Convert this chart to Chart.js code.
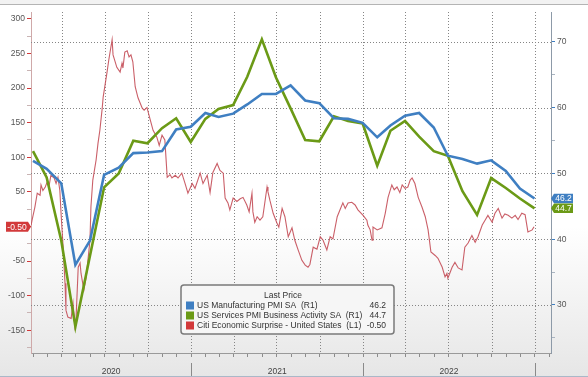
<!DOCTYPE html>
<html>
<head>
<meta charset="utf-8">
<script src="https://cdn.jsdelivr.net/npm/chart.js@4.4.1/dist/chart.umd.min.js"></script>
<style>
  html, body { margin: 0; padding: 0; background: #fff; }
</style>
</head>
<body>
<canvas id="chart" width="588" height="377"></canvas>
<script>
// monthly PMI readings (plotted at month end)
var months = [
  "2020-01", "2020-02", "2020-03", "2020-04", "2020-05", "2020-06",
  "2020-07", "2020-08", "2020-09", "2020-10", "2020-11", "2020-12",
  "2021-01", "2021-02", "2021-03", "2021-04", "2021-05", "2021-06",
  "2021-07", "2021-08", "2021-09", "2021-10", "2021-11", "2021-12",
  "2022-01", "2022-02", "2022-03", "2022-04", "2022-05", "2022-06",
  "2022-07", "2022-08", "2022-09", "2022-10", "2022-11", "2022-12"
];
var mfgPmi = [
  51.9, 50.7, 48.5, 36.1, 39.8, 49.8, 50.9, 53.1, 53.2, 53.4, 56.7, 57.1,
  59.2, 58.6, 59.1, 60.5, 62.1, 62.1, 63.4, 61.1, 60.7, 58.4, 58.3, 57.7,
  55.5, 57.3, 58.8, 59.2, 57.0, 52.7, 52.2, 51.5, 52.0, 50.4, 47.7, 46.2
];
var servPmi = [
  53.4, 49.4, 39.8, 26.7, 37.5, 47.9, 50.0, 55.0, 54.6, 56.9, 58.4, 54.8,
  58.3, 59.8, 60.4, 64.7, 70.4, 64.6, 59.9, 55.1, 54.9, 58.7, 58.0, 57.6,
  51.2, 56.5, 58.0, 55.6, 53.4, 52.7, 47.3, 43.7, 49.3, 47.8, 46.2, 44.7
];

// Citi Economic Surprise Index
var surprise = [
  ["2020-01-27", 2], ["2020-01-29", 9], ["2020-02-04", 28], ["2020-02-09", 48],
  ["2020-02-15", 45], ["2020-02-17", 60], ["2020-02-21", 52], ["2020-02-26", 57],
  ["2020-03-01", 64], ["2020-03-05", 58], ["2020-03-09", 74], ["2020-03-16", 70],
  ["2020-03-20", 62], ["2020-03-24", 71], ["2020-03-28", 52], ["2020-03-31", 14],
  ["2020-04-04", -30], ["2020-04-08", -82], ["2020-04-10", -121], ["2020-04-14", -131],
  ["2020-04-21", -133], ["2020-04-25", -111], ["2020-04-29", -146], ["2020-05-01", -140],
  ["2020-05-06", -59], ["2020-05-10", -53], ["2020-05-12", -68], ["2020-05-18", -92],
  ["2020-05-23", -73], ["2020-05-31", -20], ["2020-06-02", 28], ["2020-06-06", 67],
  ["2020-06-13", 96], ["2020-06-17", 120], ["2020-06-21", 139], ["2020-06-26", 171],
  ["2020-06-28", 187], ["2020-07-06", 222], ["2020-07-10", 241], ["2020-07-17", 270],
  ["2020-07-19", 248], ["2020-07-27", 230], ["2020-08-03", 223], ["2020-08-07", 236],
  ["2020-08-09", 229], ["2020-08-13", 252], ["2020-08-18", 254], ["2020-08-22", 245],
  ["2020-08-26", 248], ["2020-08-30", 238], ["2020-09-04", 202], ["2020-09-10", 186],
  ["2020-09-19", 171], ["2020-09-23", 168], ["2020-09-29", 172], ["2020-10-06", 154],
  ["2020-10-12", 139], ["2020-10-20", 129], ["2020-10-25", 117], ["2020-10-31", 132],
  ["2020-11-06", 125], ["2020-11-11", 71], ["2020-11-17", 75], ["2020-11-21", 70],
  ["2020-11-28", 74], ["2020-12-04", 70], ["2020-12-12", 77], ["2020-12-19", 62],
  ["2020-12-25", 48], ["2021-01-03", 62], ["2021-01-09", 55], ["2021-01-20", 77],
  ["2021-01-26", 62], ["2021-02-04", 74], ["2021-02-10", 49], ["2021-02-16", 78],
  ["2021-02-25", 91], ["2021-03-03", 81], ["2021-03-10", 77], ["2021-03-14", 41],
  ["2021-03-20", 34], ["2021-03-24", 24], ["2021-03-31", 41], ["2021-04-08", 36],
  ["2021-04-15", 40], ["2021-04-21", 42], ["2021-04-29", 31], ["2021-05-04", 21],
  ["2021-05-10", 48], ["2021-05-12", 21], ["2021-05-16", 6], ["2021-05-21", 14],
  ["2021-05-27", 9], ["2021-06-02", 14], ["2021-06-11", 57], ["2021-06-13", 50],
  ["2021-06-17", 38], ["2021-06-24", 19], ["2021-07-02", 5], ["2021-07-06", -1],
  ["2021-07-13", 26], ["2021-07-19", 14], ["2021-07-26", -15], ["2021-08-03", -2],
  ["2021-08-09", -20], ["2021-08-16", -34], ["2021-08-24", -49], ["2021-08-31", -56],
  ["2021-09-06", -59], ["2021-09-10", -55], ["2021-09-17", -30], ["2021-09-25", -33],
  ["2021-10-02", -15], ["2021-10-08", -20], ["2021-10-16", -34], ["2021-10-23", -15],
  ["2021-10-29", -18], ["2021-11-07", 14], ["2021-11-13", 24], ["2021-11-19", 34],
  ["2021-11-24", 26], ["2021-11-30", 34], ["2021-12-08", 35], ["2021-12-15", 31],
  ["2021-12-21", 24], ["2022-01-01", 16], ["2022-01-09", 9], ["2022-01-11", 2],
  ["2022-01-16", -5], ["2022-01-20", -20], ["2022-01-22", -1], ["2022-01-31", -5],
  ["2022-02-10", -2], ["2022-02-17", 19], ["2022-02-23", 42], ["2022-03-03", 60],
  ["2022-03-08", 53], ["2022-03-14", 57], ["2022-03-20", 49], ["2022-03-25", 60],
  ["2022-03-31", 55], ["2022-04-06", 57], ["2022-04-11", 67], ["2022-04-15", 70],
  ["2022-04-21", 62], ["2022-04-28", 42], ["2022-05-06", 28], ["2022-05-13", 14],
  ["2022-05-19", -5], ["2022-05-25", -37], ["2022-06-03", -42], ["2022-06-09", -46],
  ["2022-06-18", -59], ["2022-06-24", -73], ["2022-06-28", -68], ["2022-06-30", -75],
  ["2022-07-09", -59], ["2022-07-15", -52], ["2022-07-22", -60], ["2022-07-30", -63],
  ["2022-08-05", -30], ["2022-08-12", -24], ["2022-08-20", -13], ["2022-08-27", -23],
  ["2022-09-02", -15], ["2022-09-11", 2], ["2022-09-17", 9], ["2022-09-23", 16],
  ["2022-10-02", 6], ["2022-10-08", 19], ["2022-10-15", 26], ["2022-10-23", 12],
  ["2022-10-29", 18], ["2022-11-05", 16], ["2022-11-13", 12], ["2022-11-20", 16],
  ["2022-11-26", 10], ["2022-12-04", 19], ["2022-12-11", 17], ["2022-12-17", -8],
  ["2022-12-26", -5], ["2022-12-30", -0.5]
];

var seriesNames = [
  "US Manufacturing PMI SA  (R1)",
  "US Services PMI Business Activity SA  (R1)",
  "Citi Economic Surprise - United States  (L1)"
];
var lastValues = ["46.2", "44.7", "-0.50"];
var yearLabels = ["2020", "2021", "2022"];

var BLUE = "#3f7fc2";
var GREEN = "#6b9a16";
var RED = "#d2393a";
var FONT = "'Liberation Sans', Arial, sans-serif";

// x is in days since 2020-01-01
var T0 = Date.parse("2020-01-01");
function dayOf(s) {
  return (Date.parse(s) - T0) / 864e5;
}
function monthEnd(ym) {
  var y = +ym.slice(0, 4), m = +ym.slice(5, 7);
  return (Date.UTC(y, m, 0) - T0) / 864e5;
}

var blueData = months.map((m, i) => ({ x: monthEnd(m), y: mfgPmi[i] }));
var greenData = months.map((m, i) => ({ x: monthEnd(m), y: servPmi[i] }));
var redData = surprise.map((p) => ({ x: dayOf(p[0]), y: p[1] }));

// month starts for the bottom tick marks
var monthTicks = [];
for (var y = 2020; y <= 2023; y++) {
  for (var m = 0; m < 12; m++) {
    monthTicks.push({ value: (Date.UTC(y, m, 1) - T0) / 864e5, quarter: m % 3 === 0 });
  }
}

function drawTag(ctx, x, yc, w, h, color, text, pointLeft) {
  ctx.save();
  ctx.fillStyle = color;
  ctx.beginPath();
  if (pointLeft) {
    ctx.moveTo(x, yc);
    ctx.lineTo(x + 3, yc - h / 2);
    ctx.lineTo(x + w, yc - h / 2);
    ctx.lineTo(x + w, yc + h / 2);
    ctx.lineTo(x + 3, yc + h / 2);
  } else {
    ctx.moveTo(x + w, yc);
    ctx.lineTo(x + w - 3, yc - h / 2);
    ctx.lineTo(x, yc - h / 2);
    ctx.lineTo(x, yc + h / 2);
    ctx.lineTo(x + w - 3, yc + h / 2);
  }
  ctx.closePath();
  ctx.fill();
  ctx.fillStyle = "#fff";
  ctx.font = "8.5px " + FONT;
  ctx.textAlign = "center";
  ctx.textBaseline = "middle";
  ctx.fillText(text, x + w / 2 + (pointLeft ? 1.5 : -1.5), yc + 0.5);
  ctx.restore();
}

var decor = {
  id: "decor",
  beforeDraw(chart) {
    var ctx = chart.ctx;
    ctx.save();
    var g = ctx.createLinearGradient(0, 0, 0, 377);
    g.addColorStop(0, "#ffffff");
    g.addColorStop(0.6, "#ffffff");
    g.addColorStop(1, "#e6e6e6");
    ctx.fillStyle = g;
    ctx.fillRect(0, 0, 588, 377);
    ctx.fillStyle = "#f2f2f2";
    ctx.fillRect(0, 0, 588, 4);
    ctx.fillStyle = "#b4b4b4";
    ctx.fillRect(0, 4, 588, 1);
    ctx.fillStyle = "#aab8c8";
    ctx.fillRect(0, 376, 588, 1);
    ctx.restore();
  },
  beforeDatasetsDraw(chart) {
    // dotted grid: right-axis majors and quarter starts
    var ctx = chart.ctx;
    var area = chart.chartArea;
    var xs = chart.scales.x, ys = chart.scales.y1;
    ctx.save();
    ctx.strokeStyle = "#858585";
    ctx.lineWidth = 1;
    ctx.setLineDash([1, 2]);
    ys.ticks.forEach((t) => {
      if (t.value % 10 !== 0) return;
      var py = Math.round(ys.getPixelForValue(t.value)) + 0.5;
      ctx.beginPath();
      ctx.moveTo(area.left, py);
      ctx.lineTo(area.right, py);
      ctx.stroke();
    });
    xs.ticks.forEach((t) => {
      if (!t.quarter) return;
      var px = Math.round(xs.getPixelForValue(t.value)) + 0.5;
      ctx.beginPath();
      ctx.moveTo(px, area.top);
      ctx.lineTo(px, area.bottom);
      ctx.stroke();
    });
    ctx.restore();
  },
  afterDraw(chart) {
    var ctx = chart.ctx;
    var xs = chart.scales.x;
    var area = chart.chartArea;
    ctx.save();

    // year separators and labels
    ctx.strokeStyle = "#8a8a8a";
    ctx.lineWidth = 1;
    ctx.font = "8.5px " + FONT;
    ctx.fillStyle = "#444";
    ctx.textAlign = "center";
    ctx.textBaseline = "middle";
    for (var i = 0; i < yearLabels.length; i++) {
      var yr = +yearLabels[i];
      var a = Math.max(area.left, xs.getPixelForValue((Date.UTC(yr, 0, 1) - T0) / 864e5));
      var b = Math.min(area.right, xs.getPixelForValue((Date.UTC(yr + 1, 0, 1) - T0) / 864e5));
      ctx.fillText(yearLabels[i], (a + b) / 2, 371.5);
      var sx = Math.round(b) + 0.5;
      ctx.beginPath();
      ctx.moveTo(sx, 363);
      ctx.lineTo(sx, 376);
      ctx.stroke();
    }

    // last value tags
    var y1 = chart.scales.y1, yl = chart.scales.y;
    drawTag(ctx, 551, y1.getPixelForValue(mfgPmi[mfgPmi.length - 1]), 22, 9.5, BLUE, lastValues[0], true);
    drawTag(ctx, 551, y1.getPixelForValue(servPmi[servPmi.length - 1]), 22, 9.5, GREEN, lastValues[1], true);
    drawTag(ctx, 6, yl.getPixelForValue(surprise[surprise.length - 1][1]), 25, 10, RED, lastValues[2], false);

    // legend box
    var lx = 181, ly = 285, lw = 213, lh = 49;
    ctx.fillStyle = "#f6f6f6";
    ctx.strokeStyle = "#7a7a7a";
    ctx.lineWidth = 1.5;
    ctx.beginPath();
    ctx.roundRect(lx, ly, lw, lh, 3);
    ctx.fill();
    ctx.stroke();
    ctx.font = "8.5px " + FONT;
    ctx.fillStyle = "#333";
    ctx.textAlign = "center";
    ctx.fillText("Last Price", 283, 296);
    var colors = [BLUE, GREEN, RED];
    for (var k = 0; k < 3; k++) {
      var ry = 305.5 + k * 10;
      ctx.fillStyle = colors[k];
      ctx.fillRect(186, ry - 4, 8, 8);
      ctx.fillStyle = "#333";
      ctx.textAlign = "left";
      ctx.fillText(seriesNames[k], 197, ry);
      ctx.textAlign = "right";
      ctx.fillText(lastValues[k], 386, ry);
    }
    ctx.restore();
  }
};

var ctx = document.getElementById("chart").getContext("2d");
new Chart(ctx, {
  type: "line",
  data: {
    datasets: [
      { label: seriesNames[0], data: blueData, yAxisID: "y1", borderColor: BLUE, borderWidth: 2.6, pointRadius: 0, tension: 0, order: 1 },
      { label: seriesNames[1], data: greenData, yAxisID: "y1", borderColor: GREEN, borderWidth: 2.6, pointRadius: 0, tension: 0, order: 2 },
      { label: seriesNames[2], data: redData, yAxisID: "y", borderColor: "rgba(196,78,88,0.9)", borderWidth: 1.1, pointRadius: 0, tension: 0, order: 3 }
    ]
  },
  options: {
    responsive: false,
    animation: false,
    layout: { padding: { top: 12, left: 0, right: 0, bottom: 0 } },
    plugins: { legend: { display: false }, tooltip: { enabled: false } },
    scales: {
      x: {
        type: "linear",
        min: 25.75,
        max: 1130,
        afterBuildTicks: (s) => {
          s.ticks = monthTicks.filter((t) => t.value >= s.min && t.value <= s.max).map((t) => Object.assign({}, t));
        },
        afterFit: (s) => { s.height = 24; },
        ticks: { display: false },
        grid: {
          drawOnChartArea: false,
          tickColor: "#8c8c8c",
          tickLength: 4
        },
        border: { color: "#9a9a9a" }
      },
      y: {
        position: "left",
        min: -183,
        max: 310,
        afterBuildTicks: (s) => {
          var t = [];
          for (var v = -175; v <= 300; v += 25) t.push({ value: v });
          s.ticks = t;
        },
        afterFit: (s) => { s.width = 31; },
        ticks: {
          callback: (v) => (v % 50 === 0 ? String(v) : ""),
          font: { size: 8.5, family: FONT },
          color: "#555",
          padding: 2
        },
        grid: {
          drawOnChartArea: false,
          tickLength: 4,
          tickColor: (c) => (c.tick && c.tick.value % 50 === 0 ? RED : "#c9b4b4")
        },
        border: { color: "#cfa9a9" }
      },
      y1: {
        position: "right",
        min: 22.7,
        max: 74.56,
        afterBuildTicks: (s) => {
          var t = [];
          for (var v = 25; v <= 70; v += 5) t.push({ value: v });
          s.ticks = t;
        },
        afterFit: (s) => { s.width = 37; },
        ticks: {
          callback: (v) => (v % 10 === 0 ? String(v) : ""),
          font: { size: 8.5, family: FONT },
          color: "#555",
          padding: 2
        },
        grid: {
          drawOnChartArea: false,
          tickLength: 4,
          tickColor: (c) => (c.tick && c.tick.value % 10 === 0 ? BLUE : "#a9b4c0")
        },
        border: { color: "#8d9aa8" }
      }
    }
  },
  plugins: [decor]
});
</script>
</body>
</html>
